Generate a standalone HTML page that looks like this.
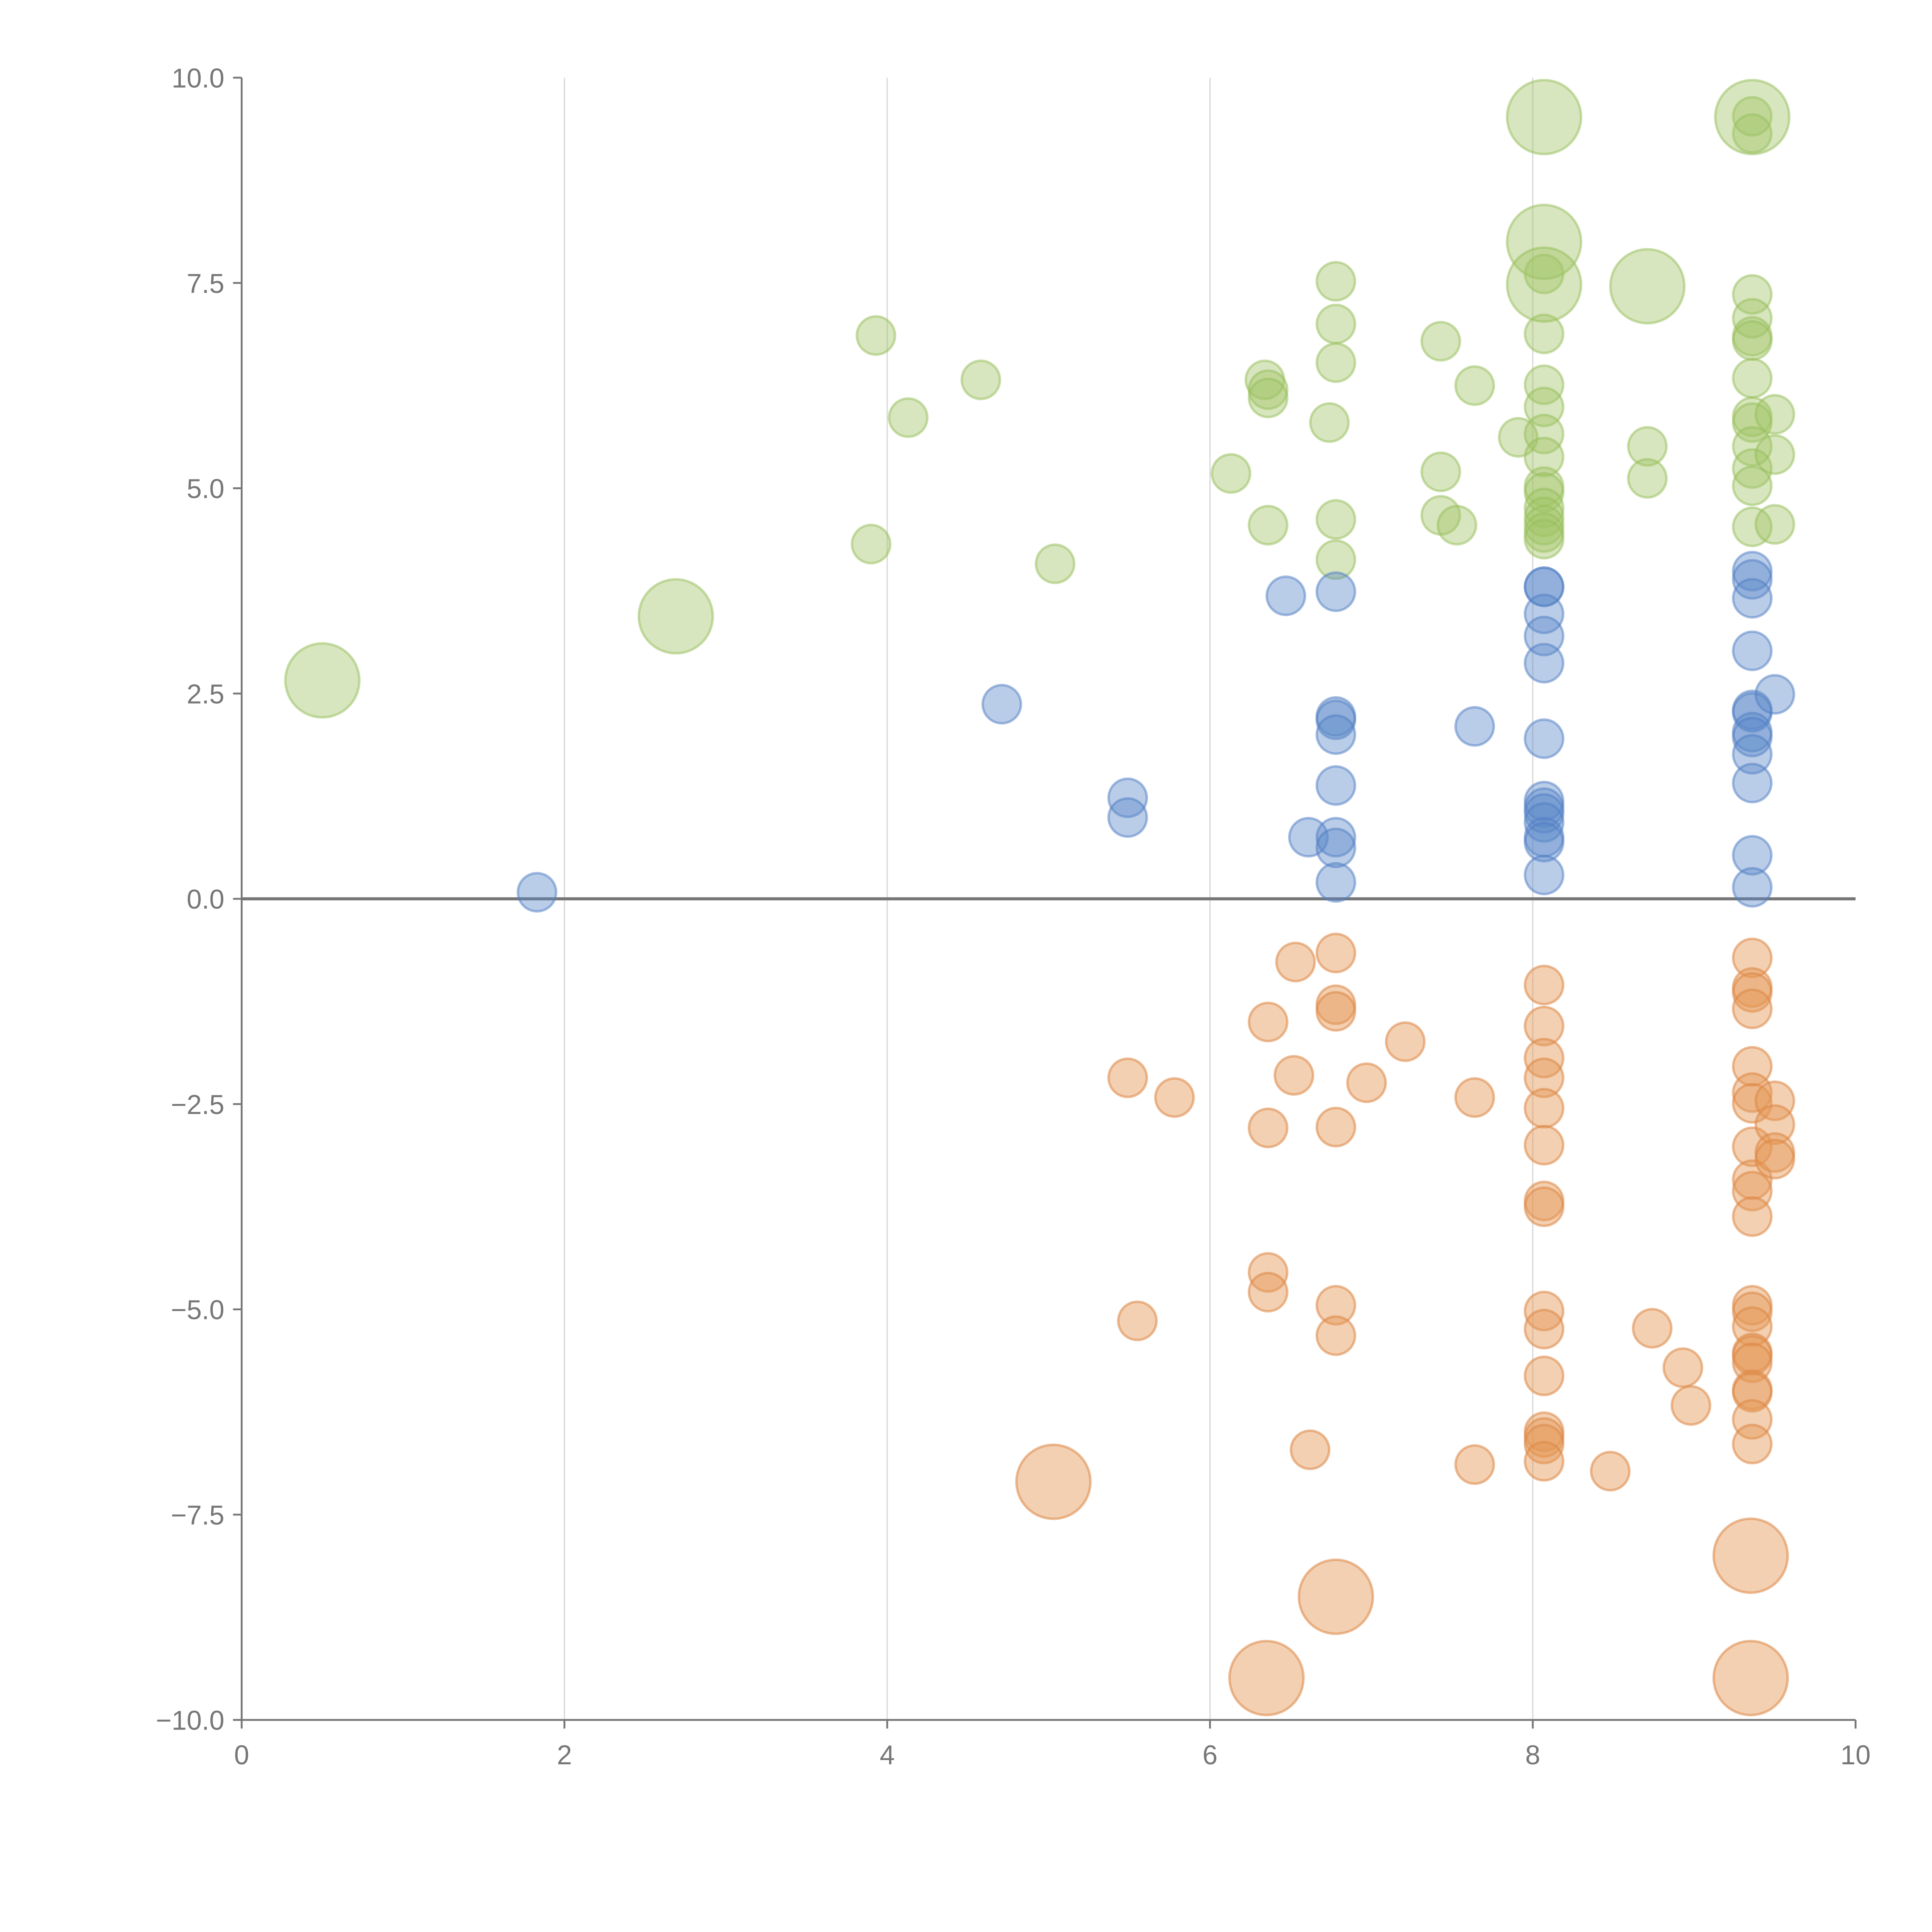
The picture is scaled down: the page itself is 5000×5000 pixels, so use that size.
<!DOCTYPE html>
<html><head><meta charset="utf-8"><style>
html,body{margin:0;padding:0;background:#fff;}
svg{display:block;}
text{font-family:"Liberation Sans",sans-serif;}
</style></head><body>
<svg id="chart" width="5000" height="5000" viewBox="0 0 1567 1567" xmlns="http://www.w3.org/2000/svg">
<g id="grid"></g>
<g id="axes"></g>
<g id="marks"></g>
</svg>
<script>
const xTicks=[0,2,4,6,8,10];
const yTicks=[10,7.5,5,2.5,0,-2.5,-5,-7.5,-10];
const yTickLabels=["10.0","7.5","5.0","2.5","0.0","\u22122.5","\u22125.0","\u22127.5","\u221210.0"];
const greenX=[3.93,4.13,4.58,3.90,5.04,6.13,6.34,6.36,6.36,6.36,6.74,6.78,6.78,6.78,6.78,6.78,7.43,7.64,7.43,7.43,7.53,7.91,
8.07,8.07,8.07,8.07,8.07,8.07,8.07,8.07,8.07,8.07,8.07,8.07,8.07,8.71,8.71,
9.36,9.36,9.36,9.36,9.36,9.36,9.36,9.36,9.36,9.36,9.36,9.36,9.36,9.50,9.50,9.50];
const greenY=[6.86,5.86,6.32,4.32,4.08,5.18,6.32,6.20,6.10,4.55,5.80,7.52,7.0,6.53,4.62,4.13,6.79,6.25,5.20,4.67,4.55,5.62,
7.61,6.88,6.26,5.99,5.66,5.38,5.02,4.95,4.76,4.65,4.55,4.46,4.38,5.51,5.12,
9.53,9.32,7.36,7.07,6.85,6.80,6.34,5.87,5.80,5.51,5.24,5.03,4.53,5.90,5.41,4.56];
const greenBigX=[0.50,2.69,8.07,8.07,8.07,8.71,9.36];
const greenBigY=[2.66,3.44,9.52,8.0,7.48,7.46,9.52];
const blueX=[1.83,4.71,5.49,5.49,6.47,6.61,6.78,6.78,6.78,6.78,6.78,6.78,6.78,6.78,7.64,
8.07,8.07,8.07,8.07,8.07,8.07,8.07,8.07,8.07,8.07,8.07,8.07,8.07,
9.36,9.36,9.36,9.36,9.36,9.36,9.36,9.36,9.36,9.36,9.36,9.36,9.50];
const blueY=[0.08,2.37,1.23,0.99,3.69,0.75,3.74,2.22,2.18,2.0,1.38,0.75,0.62,0.20,2.10,
3.80,3.80,3.47,3.20,2.87,1.95,1.19,1.11,1.04,0.93,0.75,0.69,0.29,
3.99,3.89,3.66,3.02,2.30,2.27,2.03,1.97,1.76,1.41,0.53,0.14,2.49];
const orangeX=[6.53,6.78,6.78,6.78,6.36,7.21,5.49,5.78,6.52,6.97,7.64,6.36,6.78,6.36,6.36,5.55,6.78,6.78,6.62,7.64,8.48,8.74,8.93,8.98,
8.07,8.07,8.07,8.07,8.07,8.07,8.07,8.07,8.07,8.07,8.07,8.07,8.07,8.07,8.07,
9.36,9.36,9.36,9.36,9.36,9.36,9.36,9.36,9.36,9.36,9.36,9.36,9.36,9.36,9.36,9.36,9.36,9.36,9.36,9.36,9.36,
9.50,9.50,9.50,9.50];
const orangeY=[-0.77,-0.66,-1.29,-1.37,-1.50,-1.74,-2.18,-2.42,-2.15,-2.24,-2.42,-2.79,-2.78,-4.55,-4.79,-5.14,-4.95,-5.32,-6.71,-6.89,-6.97,-5.23,-5.71,-6.17,
-1.05,-1.55,-1.94,-2.18,-2.55,-3.00,-3.68,-3.75,-5.02,-5.24,-5.81,-6.49,-6.56,-6.64,-6.85,
-0.72,-1.08,-1.14,-1.34,-2.04,-2.36,-2.49,-3.02,-3.42,-3.56,-3.87,-4.95,-5.03,-5.21,-5.53,-5.56,-5.65,-5.98,-6.01,-6.34,-6.64,
-2.46,-2.75,-3.09,-3.17];
const orangeBigX=[5.03,6.78,6.35,9.35,9.35];
const orangeBigY=[-7.10,-8.50,-9.49,-8.0,-9.49];

const NS="http://www.w3.org/2000/svg";
const X0=196,X1=1505,Y0=1395,Y1=63;
function sx(v){return X0+(v-0)/(10-0)*(X1-X0);}
function sy(v){return Y0-(v+10)/20*(Y0-Y1);}
function mk(tag,attrs,parent){const e=document.createElementNS(NS,tag);for(const k in attrs)e.setAttribute(k,attrs[k]);parent.appendChild(e);return e;}
const grid=document.getElementById('grid'),axes=document.getElementById('axes'),marks=document.getElementById('marks');

xTicks.forEach(t=>{
  if(t>0&&t<10){
    const g=mk('line',{x1:sx(t),x2:sx(t),y1:Y1,y2:Y0,stroke:'#d8d8d8','stroke-width':1},grid);
    
    
  }
  const tk=mk('line',{x1:sx(t),x2:sx(t),y1:Y0,y2:Y0+7,stroke:'#777','stroke-width':1.5},axes);
  
  
  const lb=mk('text',{x:sx(t),y:Y0+36,'text-anchor':'middle','font-size':22,fill:'#777'},axes);
  lb.textContent=t;
  
  
});
yTicks.forEach((t,i)=>{
  const tk=mk('line',{x1:X0-7,x2:X0,y1:sy(t),y2:sy(t),stroke:'#777','stroke-width':1.5},axes);
  
  
  const lb=mk('text',{x:X0-14,y:sy(t)+8,'text-anchor':'end','font-size':22,fill:'#777'},axes);
  lb.textContent=yTickLabels[i];
  
  
});
const ya=mk('line',{x1:X0,x2:X0,y1:Y1,y2:Y0,stroke:'#777','stroke-width':1.5},axes);


const xa=mk('line',{x1:X0,x2:X1,y1:Y0,y2:Y0,stroke:'#777','stroke-width':1.5},axes);


const zl=mk('line',{x1:X0,x2:X1,y1:sy(0),y2:sy(0),stroke:'#777','stroke-width':2.5},axes);



function draw(xs,ys,r,fill,stroke,name){
  xs.forEach((x,i)=>{
    const c=mk('circle',{cx:sx(x),cy:sy(ys[i]),r:r,fill:fill,stroke:stroke,'stroke-width':2},marks);
    
    
  });
}
draw(greenX,greenY,15.5,'rgba(160,196,100,0.42)','rgba(150,190,90,0.5)','green-bubble');
draw(greenBigX,greenBigY,30,'rgba(160,196,100,0.42)','rgba(150,190,90,0.5)','green-big-bubble');
draw(blueX,blueY,15.5,'rgba(90,135,200,0.42)','rgba(80,125,195,0.5)','blue-bubble');
draw(orangeX,orangeY,15.5,'rgba(228,150,85,0.45)','rgba(220,135,70,0.55)','orange-bubble');
draw(orangeBigX,orangeBigY,30,'rgba(228,150,85,0.45)','rgba(220,135,70,0.55)','orange-big-bubble');
</script>
</body></html>
